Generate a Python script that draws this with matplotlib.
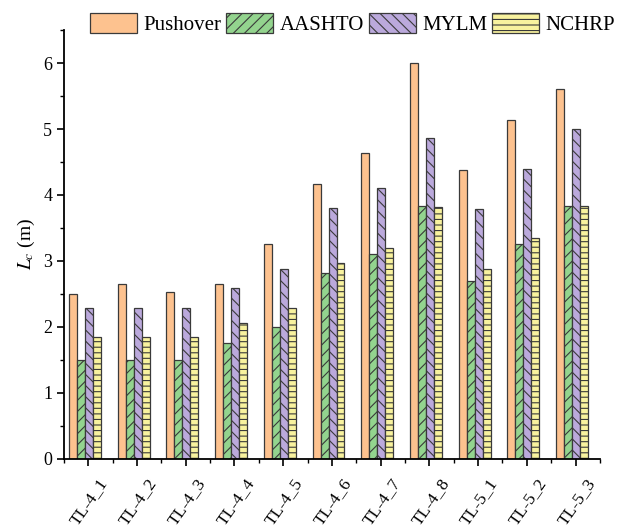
import numpy as np
import matplotlib
matplotlib.use("Agg")
import matplotlib.pyplot as plt
import matplotlib.transforms as mtransforms
from matplotlib.ticker import MultipleLocator

plt.rcParams['font.family'] = ['Liberation Serif', 'DejaVu Serif']
plt.rcParams['mathtext.fontset'] = 'stix'
plt.rcParams['hatch.linewidth'] = 0.8

categories = ["TL-4_1", "TL-4_2", "TL-4_3", "TL-4_4", "TL-4_5", "TL-4_6",
              "TL-4_7", "TL-4_8", "TL-5_1", "TL-5_2", "TL-5_3"]
pushover = [2.50, 2.65, 2.52, 2.65, 3.25, 4.17, 4.63, 6.00, 4.38, 5.14, 5.60]
aashto   = [1.50, 1.50, 1.50, 1.75, 2.00, 2.82, 3.10, 3.83, 2.70, 3.25, 3.83]
mylm     = [2.28, 2.28, 2.28, 2.58, 2.88, 3.80, 4.10, 4.87, 3.78, 4.40, 5.00]
nchrp    = [1.84, 1.84, 1.84, 2.05, 2.28, 2.96, 3.20, 3.82, 2.87, 3.34, 3.83]

series = [
    ("Pushover", pushover, "#FDC28F", None),
    ("AASHTO", aashto, "#93D48E", "///"),
    ("MYLM", mylm, "#BBA9DC", "\\\\\\"),
    ("NCHRP", nchrp, "#F8F29E", "---"),
]

fig = plt.figure(figsize=(6.21, 5.31), dpi=100)
ax = fig.add_axes([0.103, 0.1365, 0.863, 0.8067])

x = np.arange(len(categories))
w = 0.164
shift = -0.07
for i, (name, vals, col, hatch) in enumerate(series):
    ax.bar(x + shift + (i - 1.5) * w, vals, width=w, color=col,
           edgecolor="#3a3a3a", linewidth=0.9, hatch=hatch, label=name)

ax.set_xlim(-0.5, 10.5)
ax.set_ylim(0, 6.5)
ax.set_xticks(x)
ax.tick_params(axis="x", which="both", labelbottom=False)

# category labels: rotated, hanging below the axis slightly right of each tick
label_tf = (ax.get_xaxis_transform()
            + mtransforms.ScaledTranslation(0.10, -0.17, fig.dpi_scale_trans))
for xi, name in zip(x, categories):
    ax.text(xi, 0, name, transform=label_tf, rotation=55, ha="right",
            va="top", rotation_mode="anchor", fontsize=12.5)

ax.xaxis.set_minor_locator(MultipleLocator(0.5))
ax.yaxis.set_major_locator(MultipleLocator(1))
ax.yaxis.set_minor_locator(MultipleLocator(0.5))
ax.tick_params(axis="both", which="major", direction="out", length=5, width=1.2)
ax.tick_params(axis="y", which="major", labelsize=13)
ax.tick_params(axis="both", which="minor", direction="out", length=3, width=1)
for s in ("top", "right"):
    ax.spines[s].set_visible(False)
for s in ("left", "bottom"):
    ax.spines[s].set_linewidth(1.3)

ax.set_ylabel("$L_c$ (m)", fontsize=14)

fig.legend(*ax.get_legend_handles_labels(), loc="center",
           bbox_to_anchor=(0.5676, 0.955), ncol=4, frameon=False,
           fontsize=15, handlelength=2.26, handleheight=1.1,
           columnspacing=0.25, handletextpad=0.29)

fig.savefig("out.png", dpi=100)
